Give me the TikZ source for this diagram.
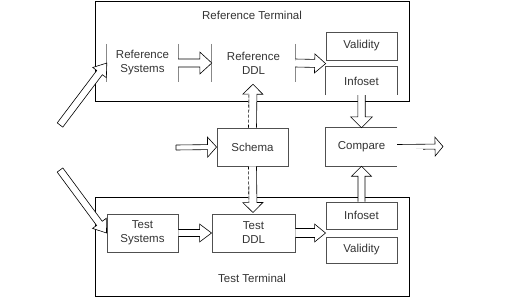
\documentclass[tikz,border=0pt]{standalone}
\usepackage{fontspec}
\setmainfont{Liberation Sans}
\usetikzlibrary{calc}

\definecolor{ink}{HTML}{333333}
\definecolor{edge}{HTML}{505050}
\definecolor{bar}{HTML}{888888}

% Hollow block arrow from #2 to #3: shaft half width #4, head half width #5, head length #6
\newcommand{\blockarrow}[6][]{%
  \path (#2) coordinate (ba-a) (#3) coordinate (ba-b);
  \path ($(ba-b)!#6!(ba-a)$) coordinate (ba-h);
  \path ($(ba-a)!#4!90:(ba-b)$) coordinate (ba-ap)
        ($(ba-h)!#4!90:(ba-b)$) coordinate (ba-hp)
        ($(ba-h)!#5!90:(ba-b)$) coordinate (ba-wp)
        ($(ba-h)!#5!-90:(ba-b)$) coordinate (ba-wm)
        ($(ba-h)!#4!-90:(ba-b)$) coordinate (ba-hm)
        ($(ba-a)!#4!-90:(ba-b)$) coordinate (ba-am);
  \fill[white] (ba-ap) -- (ba-hp) -- (ba-wp) -- (ba-b) -- (ba-wm) -- (ba-hm) -- (ba-am) -- cycle;
  \draw[arrowline,#1] (ba-ap) -- (ba-hp) -- (ba-wp) -- (ba-b) -- (ba-wm) -- (ba-hm) -- (ba-am);
}

\tikzset{
  terminal/.style={draw=black, line width=0.9pt, rectangle, inner sep=0pt},
  unit/.style={rectangle, inner sep=0pt, minimum width=71pt, minimum height=38pt,
               align=center, text=ink},
  framed/.style={draw=edge, line width=0.9pt},
  result/.style={rectangle, inner sep=0pt, minimum width=71pt, align=center, text=ink},
  sidebar/.style={draw=bar, line width=1.2pt},
  arrowline/.style={draw=black, line width=0.6pt, line join=miter},
  label/.style={text=ink}
}

\begin{document}
\fontsize{11.5}{14}\selectfont
\begin{tikzpicture}[x=1pt,y=-1pt]
\useasboundingbox (0,0) rectangle (519,298);

% Terminals
\node[terminal, minimum width=314pt, minimum height=100pt] (refterm) at (252,51) {};
\node[label] (reftitle) at (252,15) {Reference Terminal};
\node[terminal, minimum width=314pt, minimum height=99pt] (testterm) at (252,246.5) {};
\node[label] (testtitle) at (252,278) {Test Terminal};

% Reference side
\node[unit] (refsys) at (142.5,63) {Reference\\Systems};
\draw[sidebar] (refsys.north west) -- (refsys.south west)
               (refsys.north east) -- (refsys.south east);
\node[unit, minimum width=83pt] (refddl) at (253.5,63) {Reference\\DDL};
\draw[sidebar] (refddl.north west) -- (refddl.south west)
               (refddl.north east) -- (refddl.south east);
\node[result, framed, minimum height=28pt] (refval) at (361.5,46) {Validity};
\node[result, minimum height=28pt] (refinf) at (361.5,81) {Infoset};
\draw[framed] (refinf.south west) -- (refinf.north west) -- (refinf.north east) -- (refinf.south east);

% Middle
\node[unit, framed] (schema) at (252.5,147) {Schema};
\node[unit] (compare) at (361.5,147) {Compare};
\draw[framed] (compare.north east) -- (compare.north west) -- (compare.south west) -- (compare.south east);

% Test side
\node[unit, framed] (testsys) at (142.5,233) {Test\\Systems};
\node[unit, framed, minimum width=83pt] (testddl) at (253.5,233) {Test\\DDL};
\node[result, framed, minimum height=27pt] (testinf) at (361.5,215.5) {Infoset};
\node[result, framed, minimum height=26pt] (testval) at (361.5,250) {Validity};

% Free arrow ends
\coordinate (refsrc) at (60,125);
\coordinate (testsrc) at (60,170);
\coordinate (schemasrc) at (176,147.5);
\coordinate (out) at (443,146.5);
\coordinate (refsplit) at ($(refval.south west)!0.5!(refinf.north west)$);
\coordinate (testsplit) at ($(testinf.south west)!0.5!(testval.north west)$);

% Inputs
\blockarrow{refsrc}{refsys.west}{3.5pt}{8.5pt}{12pt}
\draw[arrowline] (ba-ap) -- (ba-am);
\blockarrow{testsrc}{testsys.west}{3.5pt}{8.5pt}{12pt}
\draw[arrowline] (ba-ap) -- (ba-am);
\blockarrow{schemasrc}{schema.west}{2.5pt}{10pt}{9pt}
\draw[arrowline] (ba-ap) -- (ba-am);

% Reference flow
\blockarrow{refsys.east}{refddl.west}{4pt}{11pt}{12pt}
\blockarrow{refddl.east}{refsplit}{4pt}{9.5pt}{11pt}
\blockarrow{refinf.south}{compare.north}{3.7pt}{11pt}{11pt}

% Schema to both DDLs (left shaft edge dashed)
\blockarrow{schema.north}{$(refddl.south)+(-0.5,2)$}{4pt}{10pt}{10pt}
\draw[white, line width=1pt] (ba-ap) -- (ba-hp);
\draw[arrowline, densely dashed] (ba-ap) -- (ba-hp);
\blockarrow{schema.south}{$(testddl.north)+(-0.5,-1)$}{4pt}{10pt}{10pt}
\draw[white, line width=1pt] (ba-am) -- (ba-hm);
\draw[arrowline, densely dashed] (ba-am) -- (ba-hm);

% Test flow
\blockarrow{testsys.east}{testddl.west}{3.5pt}{9pt}{12pt}
\blockarrow{testddl.east}{testsplit}{4.5pt}{9pt}{11pt}
\blockarrow{testinf.north}{compare.south}{3.5pt}{10pt}{10pt}

% Output
\blockarrow{compare.east}{out}{2.5pt}{9.5pt}{8pt}
\draw[white, line width=1.2pt] (ba-am) -- ($(ba-am)!0.68!(ba-hm)$);
\end{tikzpicture}
\end{document}
